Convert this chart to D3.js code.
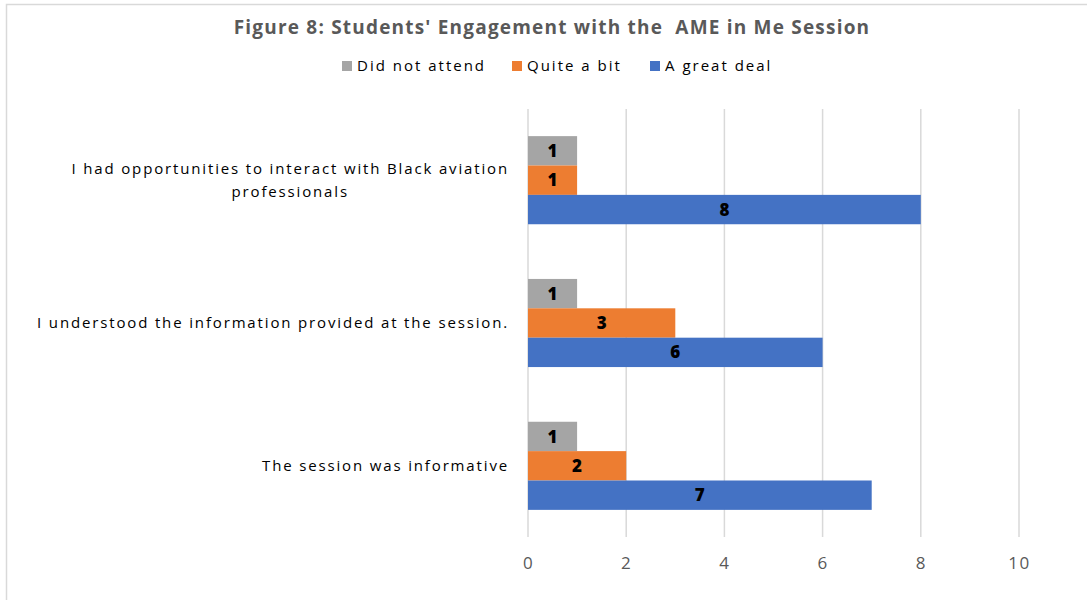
<!DOCTYPE html>
<meta charset="utf-8">
<style>
  body { margin: 0; background: #fff; }
  text { font-family: "Open Sans", sans-serif; }
</style>
<script src="https://cdn.jsdelivr.net/npm/d3@7"></script>
<body>
<div id="chart"></div>
</body>
<script>
// chart data
var categories = [
  "I had opportunities to interact with Black aviation professionals",
  "I understood the information provided at the session.",
  "The session was informative"
];
var seriesNames = ["Did not attend", "Quite a bit", "A great deal"];
var didNotAttend = [1, 1, 1];
var quiteABit = [1, 3, 2];
var aGreatDeal = [8, 6, 7];
var xTicks = [0, 2, 4, 6, 8, 10];

var colors = ["#a5a5a5", "#ed7d31", "#4472c4"];
var seriesValues = [didNotAttend, quiteABit, aGreatDeal];

var W = 1087, H = 600;
var margin = {top: 109, right: 68, bottom: 63, left: 528};
var width = W - margin.left - margin.right,
    height = H - margin.top - margin.bottom;

var svg = d3.select("#chart").append("svg")
    .attr("width", W)
    .attr("height", H);

// outer chart border (only top and left edges show)
svg.append("rect")
    .attr("x", 6.5).attr("y", 4.5)
    .attr("width", 1200).attr("height", 800)
    .attr("fill", "none")
    .attr("stroke", "#d9d9d9")
    .attr("stroke-width", 1.5);

var g = svg.append("g")
    .attr("transform", "translate(" + margin.left + "," + margin.top + ")");

var x = d3.scaleLinear().domain([0, 10]).range([0, width]);
var y0 = d3.scaleBand().domain(categories).range([0, height]).paddingInner(0.383).paddingOuter(0.19);
var y1 = d3.scaleBand().domain(seriesNames).range([0, y0.bandwidth()]);

// gridlines
g.selectAll(".grid")
  .data(xTicks)
  .enter().append("line")
    .attr("x1", function(d) { return x(d); })
    .attr("x2", function(d) { return x(d); })
    .attr("y1", 0)
    .attr("y2", height)
    .attr("stroke", "#d9d9d9")
    .attr("stroke-width", 1.5);

// x axis labels
var xAxis = g.append("g")
    .attr("transform", "translate(0," + height + ")")
    .call(d3.axisBottom(x).tickValues(xTicks).tickSize(0).tickPadding(20));
xAxis.select(".domain").remove();
xAxis.selectAll("text")
    .attr("fill", "#595959")
    .style("font-family", "'Open Sans', sans-serif")
    .style("font-size", "17px")
    .style("letter-spacing", "1.5px");

// bars
var groups = g.selectAll(".cat")
  .data(categories)
  .enter().append("g")
    .attr("transform", function(d) { return "translate(0," + y0(d) + ")"; });

groups.each(function(cat, ci) {
  var rows = seriesNames.map(function(s, si) {
    return {name: s, value: seriesValues[si][ci], color: colors[si]};
  });
  var sel = d3.select(this);
  sel.selectAll("rect")
    .data(rows)
    .enter().append("rect")
      .attr("x", 0)
      .attr("y", function(d) { return y1(d.name); })
      .attr("width", function(d) { return x(d.value); })
      .attr("height", y1.bandwidth())
      .attr("fill", function(d) { return d.color; });
  sel.selectAll(".lbl")
    .data(rows)
    .enter().append("text")
      .attr("x", function(d) { return x(d.value) / 2; })
      .attr("y", function(d) { return y1(d.name) + y1.bandwidth() / 2; })
      .attr("dy", "0.36em")
      .attr("text-anchor", "middle")
      .style("font-size", "17px")
      .style("font-weight", "800")
      .attr("fill", "#000")
      .text(function(d) { return d.value; });
});

// category labels (wrapped like the original)
var catLines = [
  ["I had opportunities to interact with Black aviation", "professionals"],
  ["I understood the information provided at the session."],
  ["The session was informative"]
];
categories.forEach(function(cat, ci) {
  var lines = catLines[ci];
  var cy = y0(cat) + y0.bandwidth() / 2;
  var t = g.append("text")
      .attr("text-anchor", "middle")
      .attr("fill", "#000")
      .style("font-size", "15px")
      .style("letter-spacing", "1.85px");
  lines.forEach(function(l, li) {
    t.append("tspan")
      .attr("x", 0)
      .attr("y", cy + (li - (lines.length - 1) / 2) * 23)
      .attr("dy", "0.36em")
      .text(l);
  });
  // right-align block, keep lines centred within it
  var w = t.node().getBBox().width;
  t.selectAll("tspan").attr("x", -19 - w / 2);
});

// title
svg.append("text")
    .attr("x", 552).attr("y", 27)
    .attr("dy", "0.36em")
    .attr("text-anchor", "middle")
    .attr("fill", "#595959")
    .style("font-size", "19px")
    .style("font-weight", "bold")
    .style("letter-spacing", "1.2px")
    .style("white-space", "pre")
    .text("Figure 8: Students' Engagement with the  AME in Me Session");

// legend
var legendX = [342, 512, 650];
var legend = svg.selectAll(".legend")
  .data(seriesNames)
  .enter().append("g")
    .attr("transform", function(d, i) { return "translate(" + legendX[i] + ",66)"; });
legend.append("rect")
    .attr("x", 0).attr("y", -5)
    .attr("width", 10).attr("height", 10)
    .attr("fill", function(d, i) { return colors[i]; });
legend.append("text")
    .attr("x", 15)
    .attr("dy", "0.36em")
    .attr("fill", "#000")
    .style("font-size", "15px")
    .style("letter-spacing", "2px")
    .text(function(d) { return d; });
</script>
</html>
